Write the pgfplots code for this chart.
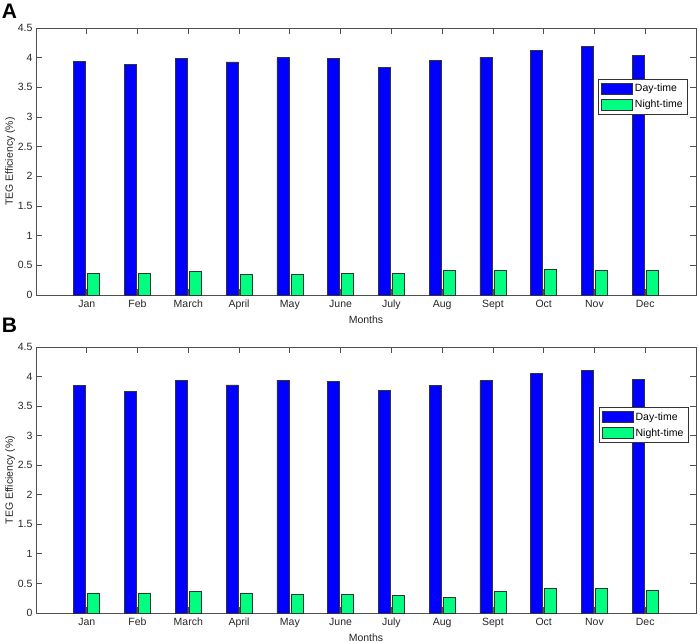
\documentclass[border=0pt]{standalone}
\usepackage{fontspec}
\setmainfont{Liberation Sans}
\usepackage{pgfplots}
\pgfplotsset{compat=1.18}
\definecolor{dayc}{RGB}{0,0,255}
\definecolor{nightc}{RGB}{0,255,128}
\definecolor{axc}{RGB}{80,80,80}
\pgfplotstableread{
m dayA nightA dayB nightB
1 3.94 0.37 3.85 0.34
2 3.89 0.37 3.75 0.34
3 3.99 0.40 3.93 0.37
4 3.93 0.35 3.86 0.34
5 4.00 0.35 3.94 0.32
6 3.99 0.36 3.92 0.32
7 3.84 0.37 3.77 0.30
8 3.95 0.41 3.85 0.27
9 4.01 0.41 3.93 0.37
10 4.12 0.44 4.05 0.41
11 4.19 0.41 4.11 0.41
12 4.04 0.41 3.95 0.38
}\data
\pgfplotsset{
  myaxis/.style={
    scale only axis, width=660bp, height=267bp,
    xmin=0, xmax=13, ymin=0, ymax=4.5,
    ybar=2bp, bar width=12bp,
    xtick={1,...,12},
    xticklabels={Jan,Feb,March,April,May,June,July,Aug,Sept,Oct,Nov,Dec},
    ytick={0,0.5,...,4.5},
    yticklabels={0,0.5,1,1.5,2,2.5,3,3.5,4,4.5},
    tick align=inside, major tick length=6bp,
    axis line style={axc, line width=0.8bp},
    every tick/.style={axc, line width=0.8bp},
    tick label style={font=\fontsize{10.5bp}{12bp}\selectfont, text=black!85},
    label style={font=\fontsize{10.5bp}{12bp}\selectfont, text=black!85},
    xticklabel style={yshift=-1.5bp},
    xlabel={Months},
    xlabel style={yshift=1bp},
    ylabel={TEG Efficiency (\%)},
    ylabel style={yshift=-4bp},
    /pgf/number format/assume math mode=true,
    legend style={font=\fontsize{10.5bp}{12bp}\selectfont, draw=black!80, line width=0.6bp,
      inner xsep=3bp, inner ysep=3bp, row sep=3bp, cells={anchor=west}},
    legend image code/.code={\draw[#1, draw=black!80, line width=0.6bp] (0bp,-5.5bp) rectangle (31bp,5.5bp);},
    legend cell align=left,
    clip=false,
  }
}
\begin{document}
\begin{tikzpicture}
\useasboundingbox (0,0) rectangle (699bp,642bp);
\node[font=\fontsize{21bp}{24bp}\selectfont\bfseries] at (9.5bp,631bp) {A};
\node[font=\fontsize{21bp}{24bp}\selectfont\bfseries] at (9.5bp,317bp) {B};
\begin{axis}[myaxis, at={(36bp,347bp)}, anchor=south west,
  legend style={at={(0.988,0.809)}, anchor=north east}]
\addplot[fill=dayc, draw=black!80, line width=0.6bp] table[x=m, y=dayA] {\data};
\addplot[fill=nightc, draw=black!80, line width=0.6bp] table[x=m, y=nightA] {\data};
\legend{Day-time, Night-time}
\end{axis}
\begin{axis}[myaxis, height=266bp, at={(36bp,29bp)}, anchor=south west,
  legend style={at={(0.989,0.774)}, anchor=north east}]
\addplot[fill=dayc, draw=black!80, line width=0.6bp] table[x=m, y=dayB] {\data};
\addplot[fill=nightc, draw=black!80, line width=0.6bp] table[x=m, y=nightB] {\data};
\legend{Day-time, Night-time}
\end{axis}
\end{tikzpicture}
\end{document}
